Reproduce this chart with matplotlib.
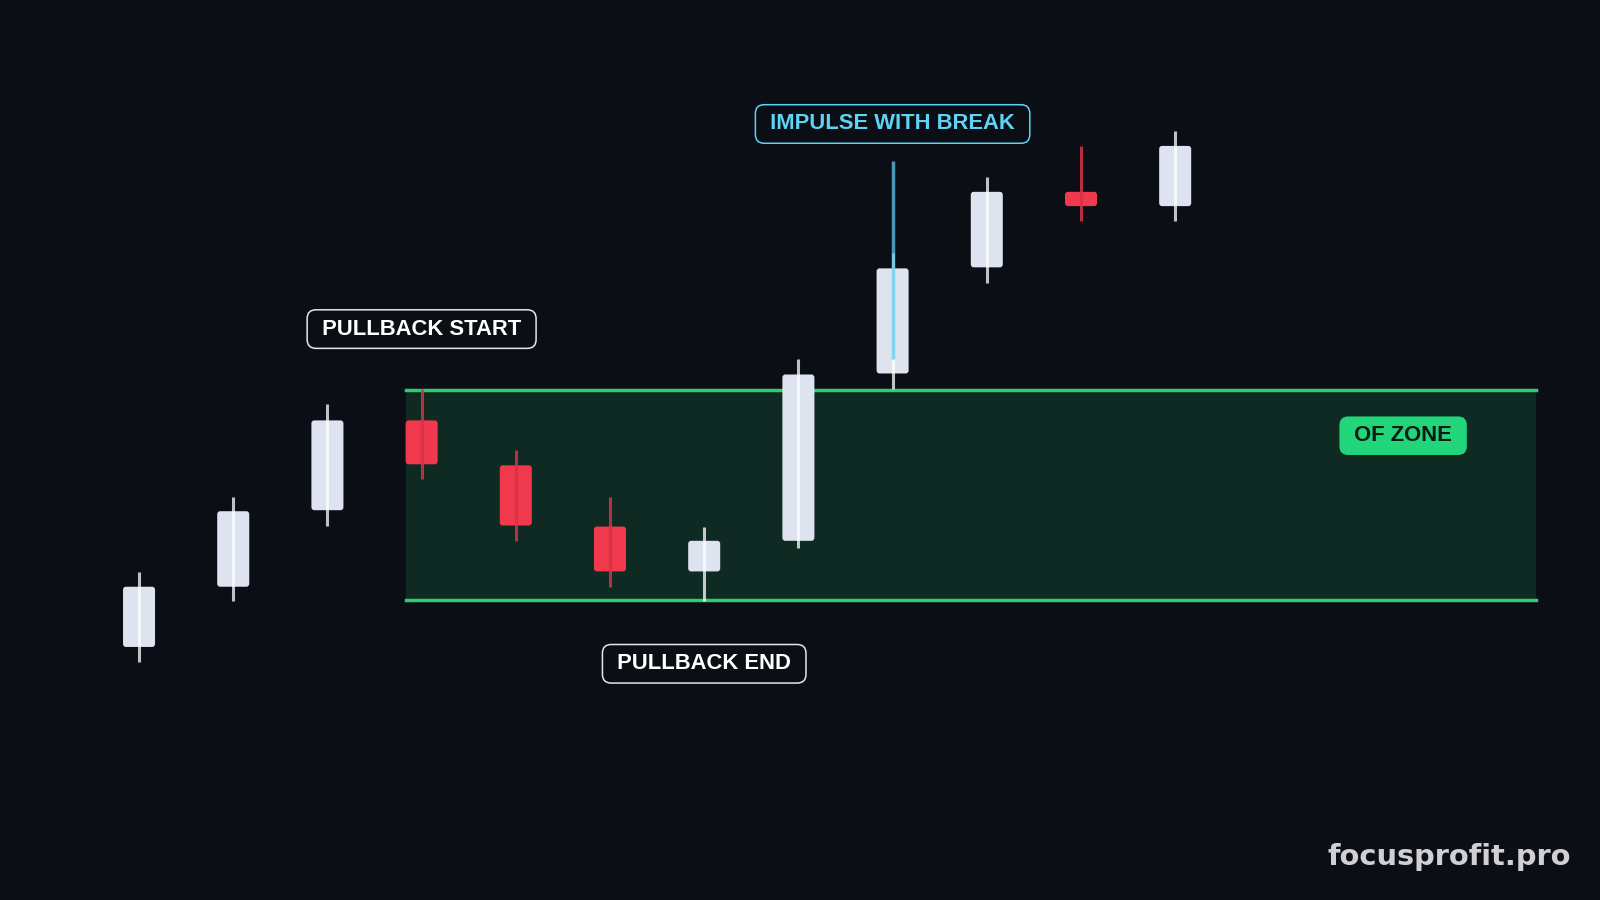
import matplotlib
matplotlib.use("Agg")
import matplotlib.pyplot as plt
from matplotlib.patches import Rectangle, FancyBboxPatch

# candle data (arbitrary price units)
opens = [24.8, 30.7, 38.2, 47.0, 42.6, 36.6, 32.2, 35.2, 51.6, 62.0, 69.4, 68.0]
highs = [32.1, 39.5, 48.6, 50.1, 44.1, 39.5, 36.6, 53.0, 63.4, 70.9, 73.9, 75.4]
lows = [23.3, 29.3, 36.7, 41.3, 35.2, 30.7, 29.3, 34.5, 50.1, 60.5, 66.5, 66.5]
closes = [30.7, 38.1, 47.0, 42.7, 36.7, 32.2, 35.2, 51.5, 61.9, 69.4, 68.0, 73.9]

# order-flow zone
zone_top = 50.0
zone_bottom = 29.4
zone_start = 3
zone_end = 14.83

# break line on impulse candle
break_idx = 8
break_high = 72.4
break_low = 53.0

labels = ["PULLBACK START", "IMPULSE WITH BREAK", "PULLBACK END"]
label_x = [3, 8, 6]
label_y = [55.95, 76.05, 23.15]

BG = "#0b0e14"
BULL = "#dde4f0"
BEAR = "#f0394c"
GREEN = "#2ecc71"

fig = plt.figure(figsize=(16, 9), dpi=100, facecolor=BG)
ax = fig.add_axes([0, 0, 1, 1])
ax.set_facecolor(BG)
ax.set_xlim(-1.476, 15.51)
ax.set_ylim(0, 88.2)
ax.axis("off")

body_w = 0.34

# zone
ax.add_patch(Rectangle((zone_start - body_w / 2, zone_bottom), zone_end - (zone_start - body_w / 2),
                       zone_top - zone_bottom, facecolor="#0f2a22", edgecolor="none", zorder=1))
ax.plot([zone_start - body_w / 2, zone_end], [zone_top, zone_top], color=GREEN, lw=2.5, zorder=2)
ax.plot([zone_start - body_w / 2, zone_end], [zone_bottom, zone_bottom], color=GREEN, lw=2.5, zorder=2)

# candles
for i, (o, h, l, c) in enumerate(zip(opens, highs, lows, closes)):
    up = c >= o
    col = BULL if up else BEAR
    ax.add_patch(FancyBboxPatch((i - body_w / 2, min(o, c)), body_w, abs(c - o),
                                boxstyle="round,pad=0,rounding_size=0.03", mutation_aspect=10,
                                facecolor=col, edgecolor="none", zorder=3))
    wick_col = "#ffffff" if up else "#d63446"
    ax.plot([i, i], [l, h], color=wick_col, lw=2.2, alpha=0.75 if up else 0.85,
            zorder=4, solid_capstyle="butt")

# break highlight
ax.plot([break_idx, break_idx], [break_low, break_high], color="#5cc8ec", lw=2.5,
        alpha=0.75, zorder=5, solid_capstyle="butt")

# labels
for txt, x, y in zip(labels, label_x, label_y):
    if "IMPULSE" in txt:
        fc, ec = "#5fd3f3", "#5fd3f3"
    else:
        fc, ec = "#ffffff", "#e6e6e6"
    ax.text(x, y, " " + txt + " ", color=fc, fontsize=15.8, fontweight="bold",
            family="Liberation Sans", ha="center", va="center", zorder=6,
            bbox=dict(boxstyle="round,pad=0.4,rounding_size=0.4", facecolor=BG,
                      edgecolor=ec, linewidth=1.1))

ax.text(13.42, 45.5, " OF ZONE ", color="#0b1a12", fontsize=15.8, fontweight="bold",
        family="Liberation Sans", ha="center", va="center", zorder=6,
        bbox=dict(boxstyle="round,pad=0.4,rounding_size=0.4", facecolor="#22d47a",
                  edgecolor="none"))

fig.text(0.982, 0.048, "focusprofit.pro", color="#d0d0d4", fontsize=20.8, fontweight="bold",
         family="DejaVu Sans", ha="right", va="center")

fig.savefig("out.png", dpi=100, facecolor=BG)
